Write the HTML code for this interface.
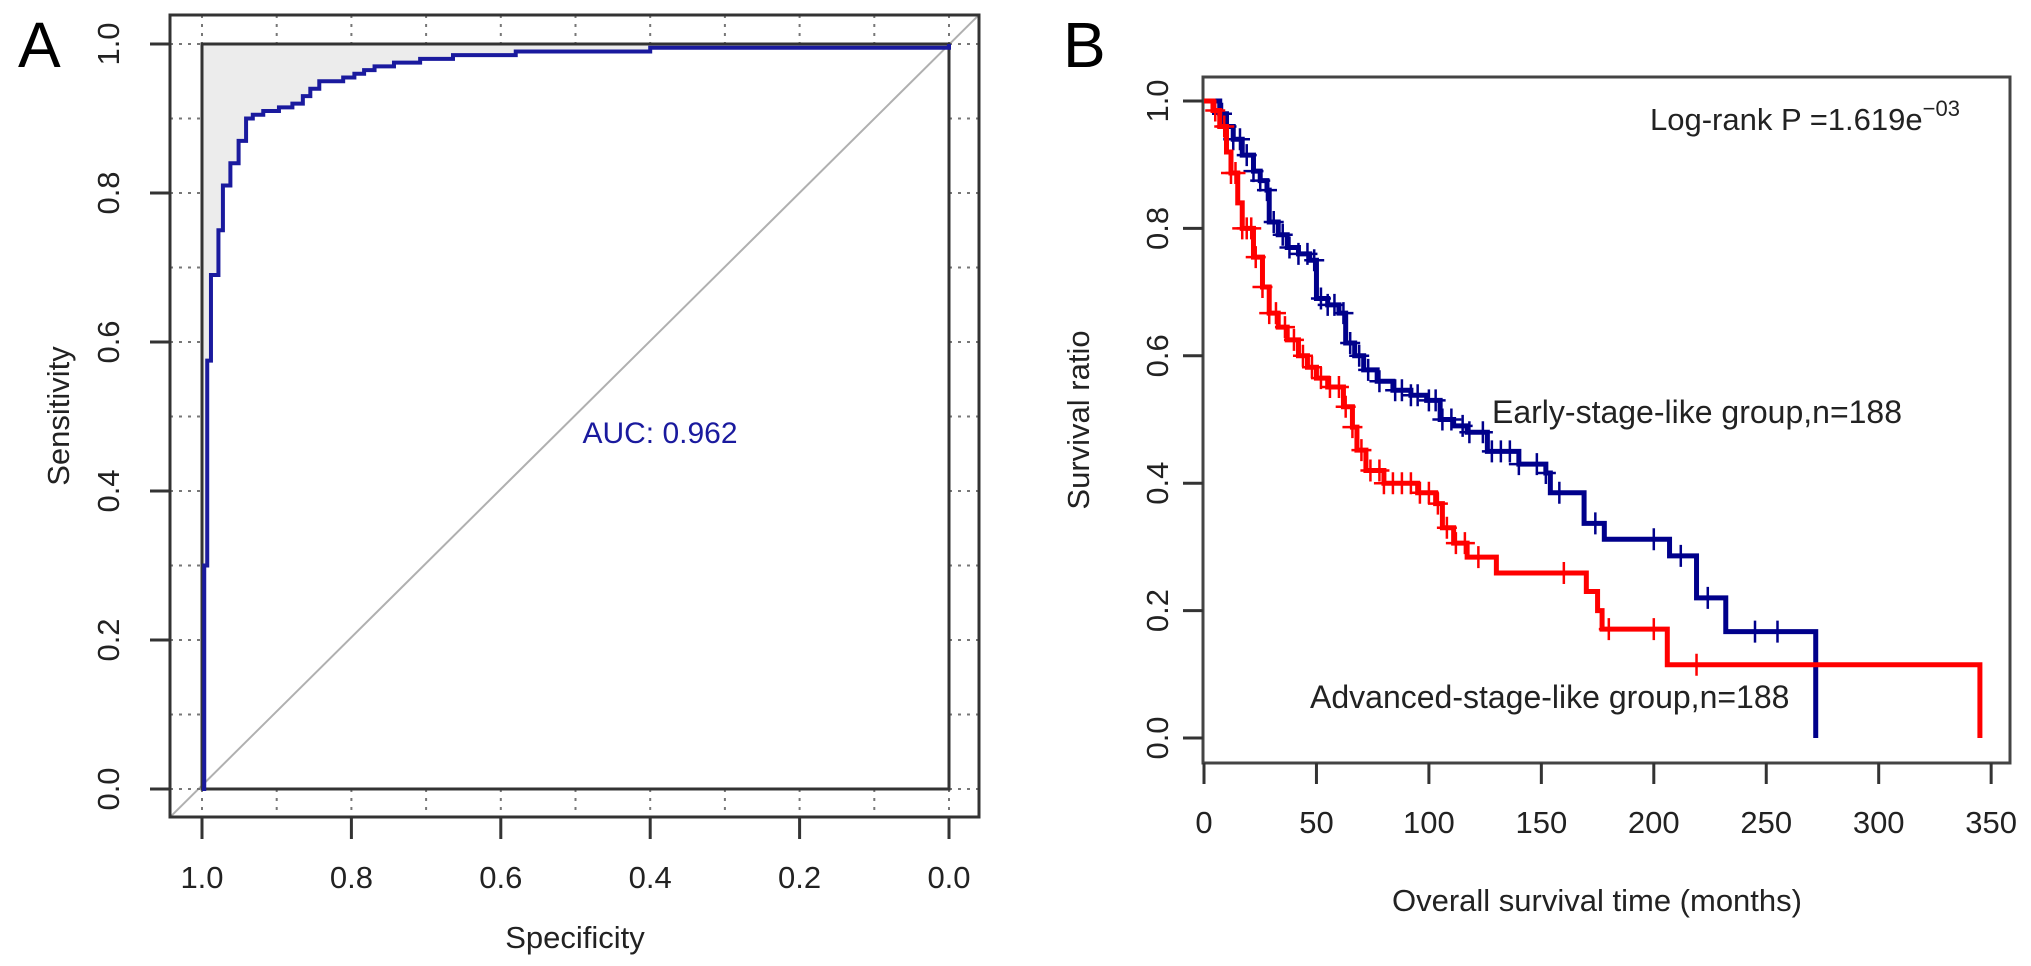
<!DOCTYPE html>
<html><head><meta charset="utf-8"><style>
html,body{margin:0;padding:0;background:#fff;}
svg{display:block;font-family:"Liberation Sans",Arial,sans-serif;}
</style></head><body>
<svg id="fig" width="2031" height="966" viewBox="0 0 2031 966" xmlns="http://www.w3.org/2000/svg">
<text x="18" y="67" font-size="64">A</text>
<text x="1063" y="67" font-size="64">B</text>
<g id="roc"></g>
<g id="km"></g>
</svg>
<script>
// ---- ROC data ----
const rocSpec = [1.0,0.997,0.993,0.988,0.978,0.972,0.962,0.951,0.941,0.932,0.918,0.897,0.879,0.865,0.855,0.843,0.811,0.796,0.783,0.769,0.743,0.708,0.664,0.58,0.40,0.0];
const rocSens = [0.0,0.30,0.575,0.69,0.75,0.81,0.84,0.87,0.90,0.905,0.91,0.915,0.92,0.93,0.94,0.95,0.955,0.96,0.965,0.97,0.975,0.98,0.985,0.99,0.995,1.0];
const rocTickVals = [1.0,0.8,0.6,0.4,0.2,0.0];
const aucLabel = "AUC: 0.962";
// ---- KM data ----
const earlyT = [0,7,10,13,17,22,25,28,29,33,37,42,47,50,55,60,63,67,71,77,84,92,99,105,111,117,126,140,152,154,169,178,207,219,232,272];
const earlyS = [1,0.98,0.96,0.94,0.915,0.89,0.875,0.86,0.81,0.79,0.77,0.76,0.75,0.69,0.68,0.667,0.62,0.60,0.578,0.56,0.546,0.538,0.53,0.50,0.49,0.48,0.45,0.43,0.416,0.385,0.337,0.312,0.286,0.22,0.167,0.0];
const earlyCens = [8,10,13,16,19,22,25,28,31,35,38,42,46,49,52,55,58,62,65,69,73,78,85,88,92,95,100,103,106,110,115,118,124,128,132,136,140,148,152,158,174,200,212,224,245,255];
const advT = [0,4,7,10,12,15,17,22,26,29,33,37,42,46,50,55,62,66,68,72,80,95,103,106,111,117,130,170,175,177,206,345];
const advS = [1,0.985,0.96,0.92,0.887,0.84,0.80,0.755,0.708,0.667,0.645,0.625,0.60,0.582,0.565,0.551,0.52,0.488,0.452,0.42,0.40,0.385,0.368,0.33,0.306,0.284,0.259,0.23,0.20,0.171,0.115,0.0];
const advCens = [5,9,12,14,17,19,21,23,26,29,32,36,40,44,48,52,56,60,63,66,70,74,78,80,84,88,92,96,100,104,108,112,116,122,160,180,200,219];
const kmXTicks = [0,50,100,150,200,250,300,350];
const kmYTicks = [0,0.2,0.4,0.6,0.8,1.0];

const NS="http://www.w3.org/2000/svg";
function mk(parent,tag,attrs,text){const el=document.createElementNS(NS,tag);for(const k in attrs)el.setAttribute(k,attrs[k]);if(text!==undefined)el.textContent=text;parent.appendChild(el);return el;}

// ---- ROC ----
(function(){
const g=document.getElementById('roc');
const L=202,R=949,T=44,B=789, OL=170,OR=979,OT=15,OB=817;
const sx=s=>L+(1-s)*(R-L);
const sy=v=>B-v*(B-T);
let e;
let d=`M${sx(1)},${sy(1)} L${sx(rocSpec[0])},${sy(rocSens[0])}`;
for(let i=1;i<rocSpec.length;i++){d+=` L${sx(rocSpec[i])},${sy(rocSens[i-1])} L${sx(rocSpec[i])},${sy(rocSens[i])}`;}
d+=' Z';
e=mk(g,'path',{d:d,fill:'#ececec',stroke:'none'});


e=mk(g,'line',{x1:sx(1.043),y1:sy(-0.038),x2:sx(-0.04),y2:sy(1.039),stroke:'#b0b0b0','stroke-width':2});


for(let k=0;k<=10;k++){const v=k/10;
 mk(g,'line',{x1:sx(v),y1:OT,x2:sx(v),y2:T,stroke:'#777','stroke-width':2,'stroke-dasharray':'3,6'});
 mk(g,'line',{x1:sx(v),y1:B,x2:sx(v),y2:OB,stroke:'#777','stroke-width':2,'stroke-dasharray':'3,6'});
 mk(g,'line',{x1:OL,y1:sy(v),x2:L,y2:sy(v),stroke:'#777','stroke-width':2,'stroke-dasharray':'3,6'});
 mk(g,'line',{x1:R,y1:sy(v),x2:OR,y2:sy(v),stroke:'#777','stroke-width':2,'stroke-dasharray':'3,6'});
}
e=mk(g,'rect',{x:L,y:T,width:R-L,height:B-T,fill:'none',stroke:'#333','stroke-width':3});


e=mk(g,'rect',{x:OL,y:OT,width:OR-OL,height:OB-OT,fill:'none',stroke:'#333','stroke-width':3});


let c=`M${sx(rocSpec[0])},${sy(rocSens[0])}`;
for(let i=1;i<rocSpec.length;i++){c+=` L${sx(rocSpec[i])},${sy(rocSens[i-1])} L${sx(rocSpec[i])},${sy(rocSens[i])}`;}
e=mk(g,'path',{d:c,fill:'none',stroke:'#1a1a9e','stroke-width':4});


rocTickVals.forEach(v=>{
 mk(g,'line',{x1:sx(v),y1:OB,x2:sx(v),y2:839,stroke:'#333','stroke-width':3});
 let t=mk(g,'text',{x:sx(v),y:888,'font-size':31,'text-anchor':'middle',fill:'#222'},v.toFixed(1));
 
 
 mk(g,'line',{x1:150,y1:sy(v),x2:OL,y2:sy(v),stroke:'#333','stroke-width':3});
 t=mk(g,'text',{x:0,y:0,'font-size':31,'text-anchor':'middle',fill:'#222',transform:`translate(119,${sy(v)}) rotate(-90)`},v.toFixed(1));
 
 
});
e=mk(g,'text',{x:575,y:948,'font-size':31,'text-anchor':'middle',fill:'#222'},'Specificity');


e=mk(g,'text',{x:0,y:0,'font-size':31,'text-anchor':'middle',fill:'#222',transform:'translate(69,416) rotate(-90)'},'Sensitivity');


e=mk(g,'text',{x:660,y:443,'font-size':30,'text-anchor':'middle',fill:'#1a1a9e'},aucLabel);


})();

// ---- KM ----
(function(){
const g=document.getElementById('km');
const BL=1203,BR=2010,BT=77,BB=763;
const x=t=>1204+t*2.249;
const y=s=>738-s*637;
let e;
function stepAt(T,S,t){let v=S[0];for(let i=0;i<T.length;i++){if(T[i]<=t)v=S[i];}return v;}
e=mk(g,'rect',{x:BL,y:BT,width:BR-BL,height:BB-BT,fill:'none',stroke:'#444','stroke-width':3});


function curve(T,S,C,col,name){
 let d=`M${x(T[0])},${y(S[0])}`;
 for(let i=1;i<T.length;i++){d+=` L${x(T[i])},${y(S[i-1])} L${x(T[i])},${y(S[i])}`;}
 let p=mk(g,'path',{d:d,fill:'none',stroke:col,'stroke-width':5});
 
 
 C.forEach(t=>{const cx=x(t),cy=y(stepAt(T,S,t));
  let m=mk(g,'path',{d:`M${cx-10},${cy} H${cx+10} M${cx},${cy-11} V${cy+11}`,stroke:col,'stroke-width':2.5,fill:'none'});
  
  
 });
}
curve(earlyT,earlyS,earlyCens,'#00008b','early-stage');
curve(advT,advS,advCens,'#ff0000','advanced-stage');
kmXTicks.forEach(v=>{
 mk(g,'line',{x1:x(v),y1:BB,x2:x(v),y2:784,stroke:'#333','stroke-width':3});
 let t=mk(g,'text',{x:x(v),y:833,'font-size':31,'text-anchor':'middle',fill:'#222'},String(v));
 
 
});
kmYTicks.forEach(v=>{
 mk(g,'line',{x1:1183,y1:y(v),x2:BL,y2:y(v),stroke:'#333','stroke-width':3});
 let t=mk(g,'text',{x:0,y:0,'font-size':31,'text-anchor':'middle',fill:'#222',transform:`translate(1168,${y(v)}) rotate(-90)`},v.toFixed(1));
 
 
});
e=mk(g,'text',{x:1597,y:911,'font-size':31,'text-anchor':'middle',fill:'#222'},'Overall survival time (months)');


e=mk(g,'text',{x:0,y:0,'font-size':31,'text-anchor':'middle',fill:'#222',transform:'translate(1089,420) rotate(-90)'},'Survival ratio');


e=mk(g,'text',{x:1650,y:130,'font-size':31,fill:'#222'});


mk(e,'tspan',{},'Log-rank P =1.619e');
mk(e,'tspan',{'font-size':22,dy:-14},'\u221203');
e=mk(g,'text',{x:1492,y:423,'font-size':32,fill:'#222'},'Early-stage-like group,n=188');


e=mk(g,'text',{x:1310,y:708,'font-size':32,fill:'#222'},'Advanced-stage-like group,n=188');


})();
</script>
</body></html>
